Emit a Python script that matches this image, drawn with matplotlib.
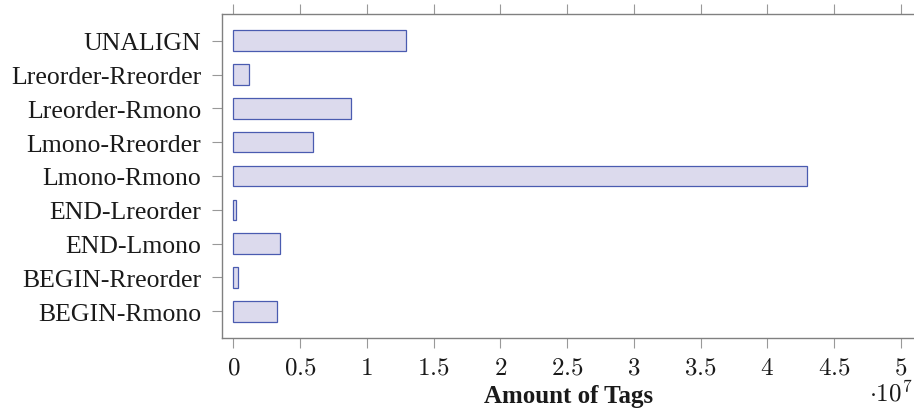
import matplotlib.pyplot as plt
from matplotlib.ticker import FuncFormatter

categories = ["UNALIGN", "Lreorder-Rreorder", "Lreorder-Rmono", "Lmono-Rreorder",
              "Lmono-Rmono", "END-Lreorder", "END-Lmono", "BEGIN-Rreorder", "BEGIN-Rmono"]
tag_counts = [1.29e7, 0.12e7, 0.88e7, 0.60e7, 4.30e7, 0.017e7, 0.352e7, 0.032e7, 0.327e7]
x_ticks = [0, 0.5e7, 1e7, 1.5e7, 2e7, 2.5e7, 3e7, 3.5e7, 4e7, 4.5e7, 5e7]

plt.rcParams['mathtext.fontset'] = 'cm'
serif = ['Liberation Serif', 'DejaVu Serif']

fig = plt.figure(figsize=(9.14, 4.10), dpi=100)
W, H = 914, 410
left, right, top, bottom = 221.5, 916, 15, 339
ax = fig.add_axes([left / W, 1 - bottom / H, (right - left) / W, (bottom - top) / H])

# reversed so the first category ends up on top
pos = list(range(len(categories)))[::-1]
ax.barh(pos, tag_counts, height=0.61, color='#dcdaed', edgecolor='#4a5bb0', linewidth=0.9)

ax.set_xlim(-0.0884e7, 5.114e7)
ax.set_ylim(-0.79, len(categories) - 1 + 0.79)

ax.set_yticks(pos)
ax.set_yticklabels(categories, fontfamily=serif, fontsize=18.5, color='#1a1a1a')
ax.set_xticks(x_ticks)
ax.xaxis.set_major_formatter(FuncFormatter(lambda v, p: f"${v / 1e7:g}$"))

ax.tick_params(axis='x', which='both', top=True, bottom=True, direction='out',
               length=7, width=0.8, color='#999999', labelsize=18, labelcolor='#1a1a1a', pad=5)
ax.tick_params(axis='y', direction='out', length=7, width=0.8, color='#999999', pad=7.5)

for side in ['left', 'top', 'bottom']:
    ax.spines[side].set_color('#808080')
    ax.spines[side].set_linewidth(1.0)
ax.spines['right'].set_visible(False)

ax.set_xlabel("Amount of Tags", fontfamily=serif, fontweight='bold', fontsize=18,
              color='#1a1a1a')
ax.xaxis.set_label_coords(0.5, -(397 - bottom) / (bottom - top))
ax.xaxis.label.set_va('center')

fig.text(891 / W, 1 - 393 / H, r"$\cdot 10^7$", fontsize=18, ha='center', va='center',
         color='#1a1a1a')

fig.savefig('out.png', dpi=100)
